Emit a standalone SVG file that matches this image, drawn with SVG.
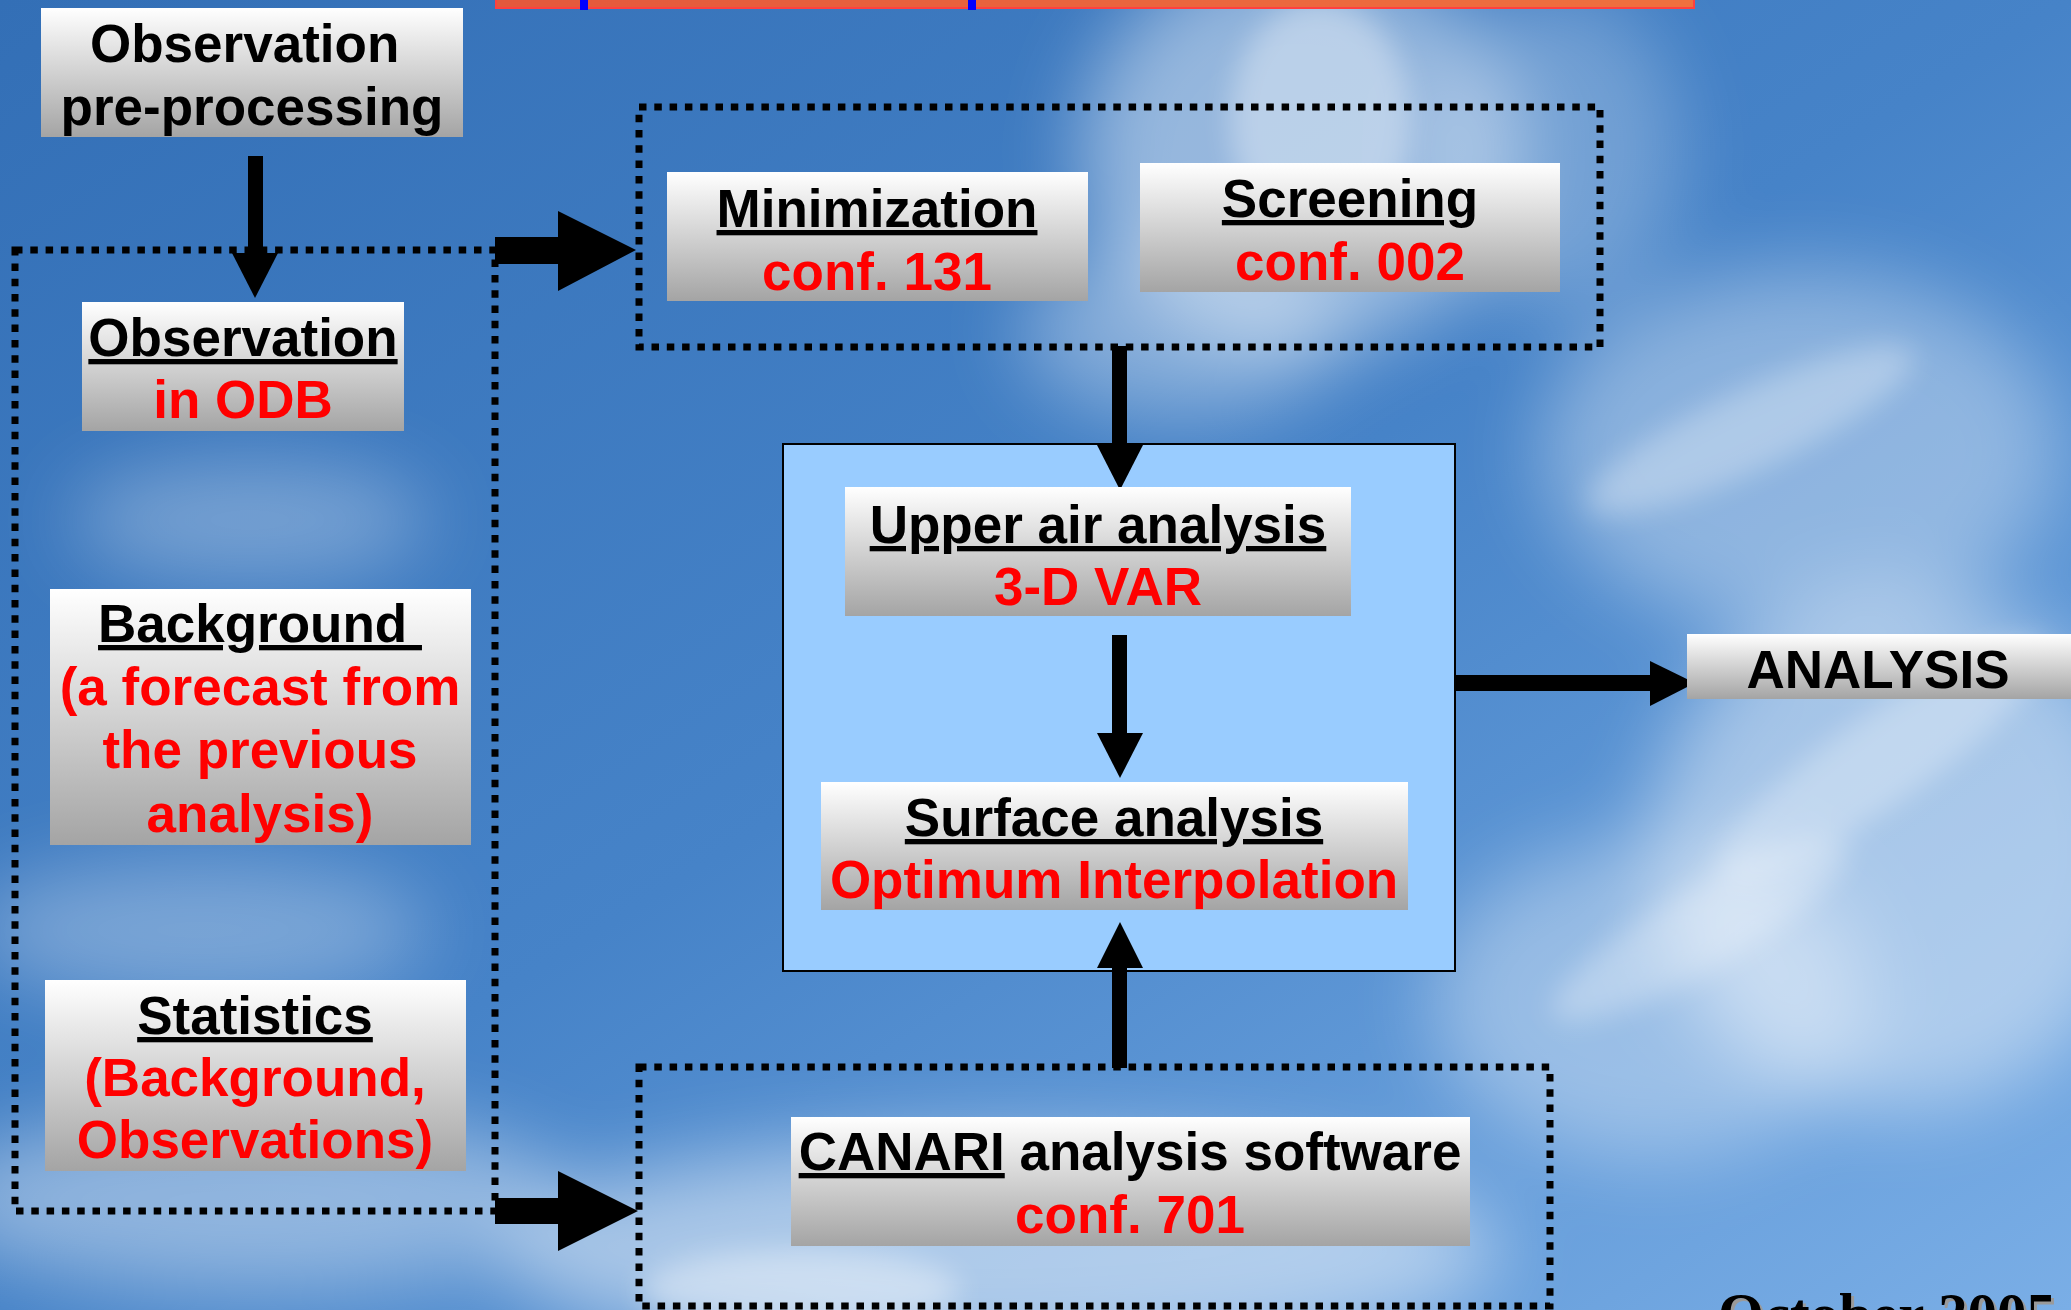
<svg xmlns="http://www.w3.org/2000/svg" width="2071" height="1310" viewBox="0 0 2071 1310">
  <defs>
    <linearGradient id="sky" x1="0" y1="0" x2="1" y2="1">
      <stop offset="0" stop-color="#336fb6"/>
      <stop offset="0.5" stop-color="#4683c8"/>
      <stop offset="1" stop-color="#7aaee6"/>
    </linearGradient>
    <linearGradient id="boxFill" x1="0" y1="0" x2="0" y2="1">
      <stop offset="0" stop-color="#ffffff"/>
      <stop offset="1" stop-color="#a4a4a4"/>
    </linearGradient>
    <linearGradient id="barFill" x1="0" y1="0" x2="1" y2="0">
      <stop offset="0" stop-color="#e4583c"/>
      <stop offset="1" stop-color="#f0703e"/>
    </linearGradient>
    <filter id="cloudBlur" x="-50%" y="-50%" width="200%" height="200%">
      <feGaussianBlur stdDeviation="40"/>
    </filter>
    <filter id="wispBlur" x="-50%" y="-50%" width="200%" height="200%">
      <feGaussianBlur stdDeviation="14"/>
    </filter>
  </defs>
  <style>
    .node-box { fill: url(#boxFill); }
    .label { font-family: "Liberation Sans", Arial, sans-serif; font-weight: bold; font-size: 53px; text-anchor: middle; }
    .title { fill: #000000; }
    .sub { fill: #ff0000; }
    .ul { text-decoration: underline; }
    .dotted { fill: none; stroke: #000000; stroke-width: 7; stroke-dasharray: 7.5 7.8; }
    .conn { fill: #000000; }
  </style>

  <!-- sky backdrop -->
  <g id="backdrop">
    <rect x="0" y="0" width="2071" height="1310" fill="url(#sky)"/>
    <g filter="url(#cloudBlur)" fill="#ffffff">
      <ellipse cx="1300" cy="150" rx="220" ry="200" opacity="0.45"/>
      <ellipse cx="1180" cy="330" rx="160" ry="90" opacity="0.35"/>
      <ellipse cx="1800" cy="450" rx="260" ry="180" opacity="0.35"/>
      <ellipse cx="1900" cy="850" rx="250" ry="260" opacity="0.45"/>
      <ellipse cx="1650" cy="1000" rx="220" ry="160" opacity="0.35"/>
      <ellipse cx="1000" cy="1250" rx="500" ry="110" opacity="0.5"/>
      <ellipse cx="250" cy="1200" rx="320" ry="90" opacity="0.4"/>
      <ellipse cx="250" cy="520" rx="180" ry="60" opacity="0.3"/>
      <ellipse cx="200" cy="930" rx="230" ry="70" opacity="0.3"/>
      <ellipse cx="1560" cy="150" rx="120" ry="160" opacity="0.25"/>
    </g>
    <g filter="url(#wispBlur)" fill="#ffffff">
      <ellipse cx="1320" cy="120" rx="90" ry="120" opacity="0.35"/>
      <ellipse cx="1750" cy="430" rx="180" ry="40" opacity="0.3" transform="rotate(-25 1750 430)"/>
      <ellipse cx="1880" cy="760" rx="200" ry="45" opacity="0.3" transform="rotate(-35 1880 760)"/>
      <ellipse cx="1700" cy="930" rx="170" ry="40" opacity="0.3" transform="rotate(-30 1700 930)"/>
      <ellipse cx="800" cy="1290" rx="160" ry="40" opacity="0.4"/>
    </g>
  </g>

  <!-- header strip -->
  <g id="header-bar">
    <rect x="496" y="-2" width="1198" height="10" fill="url(#barFill)" stroke="#ff4040" stroke-width="2"/>
    <rect x="580" y="0" width="8" height="10" fill="#0000ff"/>
    <rect x="968" y="0" width="8" height="10" fill="#0000ff"/>
  </g>

  <!-- grouping frames -->
  <g id="group-inputs"><rect class="dotted" x="15" y="250" width="480" height="961"/></g>
  <g id="group-min-screen"><rect class="dotted" x="639" y="107" width="961" height="240"/></g>
  <g id="group-canari"><rect class="dotted" x="639" y="1067" width="911" height="239"/></g>

  <!-- analysis container -->
  <g id="analysis-container">
    <rect x="783" y="444" width="672" height="527" fill="#99ccff" stroke="#000000" stroke-width="2"/>
  </g>

  <!-- connectors -->
  <g id="connectors">
    <!-- pre-processing to ODB -->
    <rect class="conn" x="248" y="156" width="15" height="98"/>
    <polygon class="conn" points="232,253 278,253 255,298"/>
    <!-- inputs to minimization/screening -->
    <polygon class="conn" points="495,237 558,237 558,211 636,250 558,291 558,264 495,264"/>
    <!-- inputs to CANARI -->
    <polygon class="conn" points="495,1198 558,1198 558,1171 638,1211 558,1251 558,1224 495,1224"/>
    <!-- minimization/screening to upper air -->
    <rect class="conn" x="1112" y="346" width="15" height="100"/>
    <polygon class="conn" points="1097,445 1143,445 1120,490"/>
    <!-- upper air to surface -->
    <rect class="conn" x="1112" y="635" width="15" height="99"/>
    <polygon class="conn" points="1097,733 1143,733 1120,778"/>
    <!-- CANARI to surface -->
    <rect class="conn" x="1112" y="967" width="15" height="101"/>
    <polygon class="conn" points="1097,968 1143,968 1120,922"/>
    <!-- container to ANALYSIS -->
    <rect class="conn" x="1455" y="675" width="196" height="16"/>
    <polygon class="conn" points="1650,661 1650,706 1695,683"/>
  </g>

  <!-- nodes -->
  <g id="obs-preprocessing">
    <rect class="node-box" x="41" y="8" width="422" height="129"/>
    <text class="label title" x="252" y="62" xml:space="preserve">Observation </text>
    <text class="label title" x="252" y="125">pre-processing</text>
  </g>

  <g id="obs-odb">
    <rect class="node-box" x="82" y="302" width="322" height="129"/>
    <text class="label title ul" x="243" y="356">Observation</text>
    <text class="label sub" x="243" y="418">in ODB</text>
  </g>

  <g id="background">
    <rect class="node-box" x="50" y="589" width="421" height="256"/>
    <text class="label title ul" x="260" y="642" xml:space="preserve">Background </text>
    <text class="label sub" x="260" y="705">(a forecast from</text>
    <text class="label sub" x="260" y="768">the previous</text>
    <text class="label sub" x="260" y="832">analysis)</text>
  </g>

  <g id="statistics">
    <rect class="node-box" x="45" y="980" width="421" height="191"/>
    <text class="label title ul" x="255" y="1034">Statistics</text>
    <text class="label sub" x="255" y="1096">(Background,</text>
    <text class="label sub" x="255" y="1158">Observations)</text>
  </g>

  <g id="minimization">
    <rect class="node-box" x="667" y="172" width="421" height="129"/>
    <text class="label title ul" x="877" y="227">Minimization</text>
    <text class="label sub" x="877" y="290">conf. 131</text>
  </g>

  <g id="screening">
    <rect class="node-box" x="1140" y="163" width="420" height="129"/>
    <text class="label title ul" x="1350" y="217">Screening</text>
    <text class="label sub" x="1350" y="280">conf. 002</text>
  </g>

  <g id="upper-air">
    <rect class="node-box" x="845" y="487" width="506" height="129"/>
    <text class="label title ul" x="1098" y="543">Upper air analysis</text>
    <text class="label sub" x="1098" y="605">3-D VAR</text>
  </g>

  <g id="surface">
    <rect class="node-box" x="821" y="782" width="587" height="128"/>
    <text class="label title ul" x="1114" y="836">Surface analysis</text>
    <text class="label sub" x="1114" y="898">Optimum Interpolation</text>
  </g>

  <g id="canari">
    <rect class="node-box" x="791" y="1117" width="679" height="129"/>
    <text class="label title" x="1130" y="1170"><tspan class="ul">CANARI</tspan> analysis software</text>
    <text class="label sub" x="1130" y="1233">conf. 701</text>
  </g>

  <g id="analysis-output">
    <rect class="node-box" x="1687" y="634" width="390" height="65"/>
    <text class="label title" x="1878" y="688">ANALYSIS</text>
  </g>

  <!-- date footer, running off the lower edge -->
  <g id="footer-date" font-family="'Liberation Serif', 'Times New Roman', serif" font-weight="bold" font-size="59">
    <text x="1721" y="1337" fill="#9a9a9a">October 2005</text>
    <text x="1718" y="1334" fill="#000000">October 2005</text>
  </g>
</svg>
